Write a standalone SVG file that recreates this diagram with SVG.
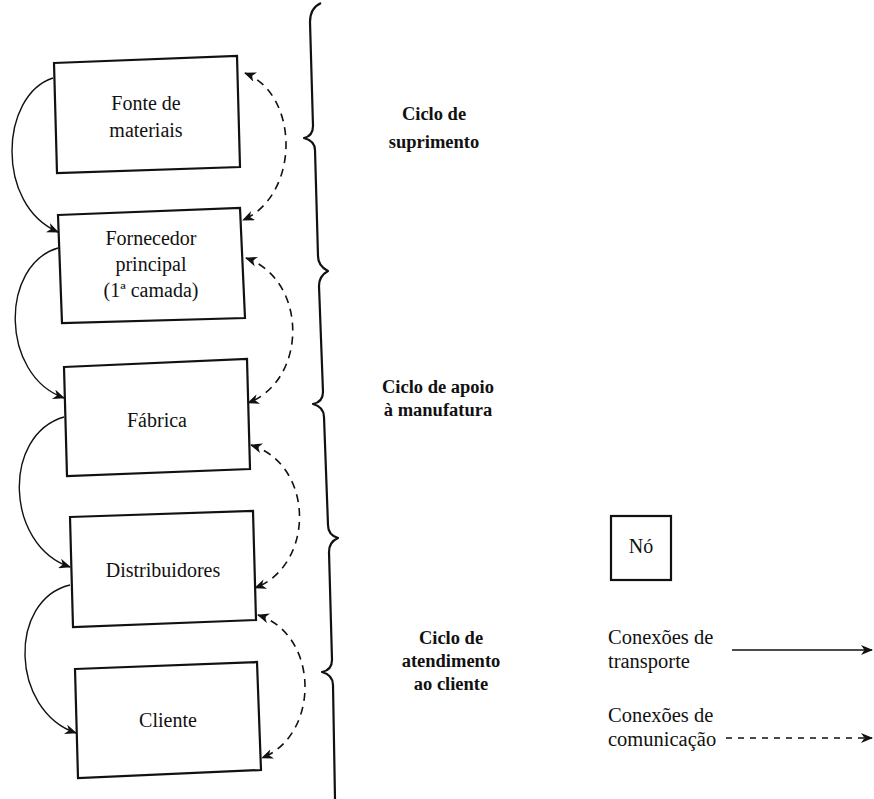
<svg xmlns="http://www.w3.org/2000/svg" width="874" height="799" viewBox="0 0 874 799">
  <style>
    .box { fill: #fff; stroke: #111; stroke-width: 2.2; }
    .lbl { font-family: "Liberation Serif", "DejaVu Serif", serif; font-size: 20px; fill: #111; text-anchor: middle; }
    .cyc { font-family: "Liberation Serif", "DejaVu Serif", serif; font-size: 18.5px; font-weight: bold; fill: #111; text-anchor: middle; }
    .leg { font-family: "Liberation Serif", "DejaVu Serif", serif; font-size: 20.5px; fill: #111; }
    .solid { fill: none; stroke: #111; stroke-width: 1.4; }
    .dash { fill: none; stroke: #111; stroke-width: 1.6; stroke-dasharray: 8 6; }
    .brace { fill: none; stroke: #111; stroke-width: 2.2; stroke-linejoin: round; }
  </style>
  <defs>
    <marker id="arrow" viewBox="0 0 12 10" refX="11" refY="5" markerWidth="12" markerHeight="10" markerUnits="userSpaceOnUse" orient="auto-start-reverse">
      <path d="M0,0 L12,5 L0,10 L3.5,5 z" fill="#111"/>
    </marker>
  </defs>

  <rect width="874" height="799" fill="#fff"/>

  <!-- Supply chain nodes -->
  <g id="fonte">
    <polygon class="box" points="54,63 237,56 240,167 57,173"/>
    <text class="lbl" x="146" y="110">Fonte de</text>
    <text class="lbl" x="146" y="137">materiais</text>
  </g>
  <g id="fornecedor">
    <polygon class="box" points="58,215 240,208 245,318 62,323"/>
    <text class="lbl" x="151" y="245">Fornecedor</text>
    <text class="lbl" x="151" y="271">principal</text>
    <text class="lbl" x="151" y="297">(1ª camada)</text>
  </g>
  <g id="fabrica">
    <polygon class="box" points="64,367 247,359 250,469 67,476"/>
    <text class="lbl" x="157" y="427">Fábrica</text>
  </g>
  <g id="distribuidores">
    <polygon class="box" points="70,517 253,511 256,620 73,627"/>
    <text class="lbl" x="163" y="577">Distribuidores</text>
  </g>
  <g id="cliente">
    <polygon class="box" points="75,669 257,662 261,770 78,778"/>
    <text class="lbl" x="168" y="727">Cliente</text>
  </g>

  <!-- Transport (solid) and communication (dashed) links -->
  <g id="connectors">
    <path class="solid" d="M53,78 C0,95 -5,205 58,232" marker-end="url(#arrow)"/>
    <path class="solid" d="M58,248 C0,265 0,375 64,398" marker-end="url(#arrow)"/>
    <path class="solid" d="M64,417 C2,435 5,545 70,567" marker-end="url(#arrow)"/>
    <path class="solid" d="M70,585 C8,600 10,710 76,733" marker-end="url(#arrow)"/>

    <path class="dash" d="M245,73 C300,95 300,195 243,220" marker-start="url(#arrow)" marker-end="url(#arrow)"/>
    <path class="dash" d="M246,258 C308,280 308,380 248,403" marker-start="url(#arrow)" marker-end="url(#arrow)"/>
    <path class="dash" d="M251,445 C315,465 315,565 255,588" marker-start="url(#arrow)" marker-end="url(#arrow)"/>
    <path class="dash" d="M258,615 C320,635 320,735 262,758" marker-start="url(#arrow)" marker-end="url(#arrow)"/>
  </g>

  <!-- Cycle braces -->
  <g id="braces">
    <path class="brace" d="M321,3 Q310,8 310,22 L313,126 Q313,136 304,138 Q315,141 315,150 L318,256 Q318,266 328,271 Q319,276 319,286 L323,392 Q323,402 313,404 Q324,407 324,417 L328,525 Q328,535 338,538 Q329,542 329,552 L332,660 Q332,670 322,672 Q333,675 333,685 L335,799"/>
  </g>

  <!-- Cycle labels -->
  <g id="cycle-labels">
    <text class="cyc" x="434" y="120">Ciclo de</text>
    <text class="cyc" x="434" y="148">suprimento</text>
    <text class="cyc" x="438" y="393">Ciclo de apoio</text>
    <text class="cyc" x="438" y="416">à manufatura</text>
    <text class="cyc" x="451" y="644">Ciclo de</text>
    <text class="cyc" x="451" y="667">atendimento</text>
    <text class="cyc" x="451" y="690">ao cliente</text>
  </g>

  <!-- Legend -->
  <g id="legend">
    <rect class="box" x="611" y="516" width="60" height="64"/>
    <text class="lbl" x="641" y="553">Nó</text>
    <text class="leg" x="608" y="644">Conexões de</text>
    <text class="leg" x="608" y="668">transporte</text>
    <path class="solid" d="M732,650 L872,650" marker-end="url(#arrow)"/>
    <text class="leg" x="608" y="722">Conexões de</text>
    <text class="leg" x="608" y="746">comunicação</text>
    <path class="dash" d="M726,738 L872,738" style="stroke-dasharray:6 6;stroke-width:1.4" marker-end="url(#arrow)"/>
  </g>
</svg>
